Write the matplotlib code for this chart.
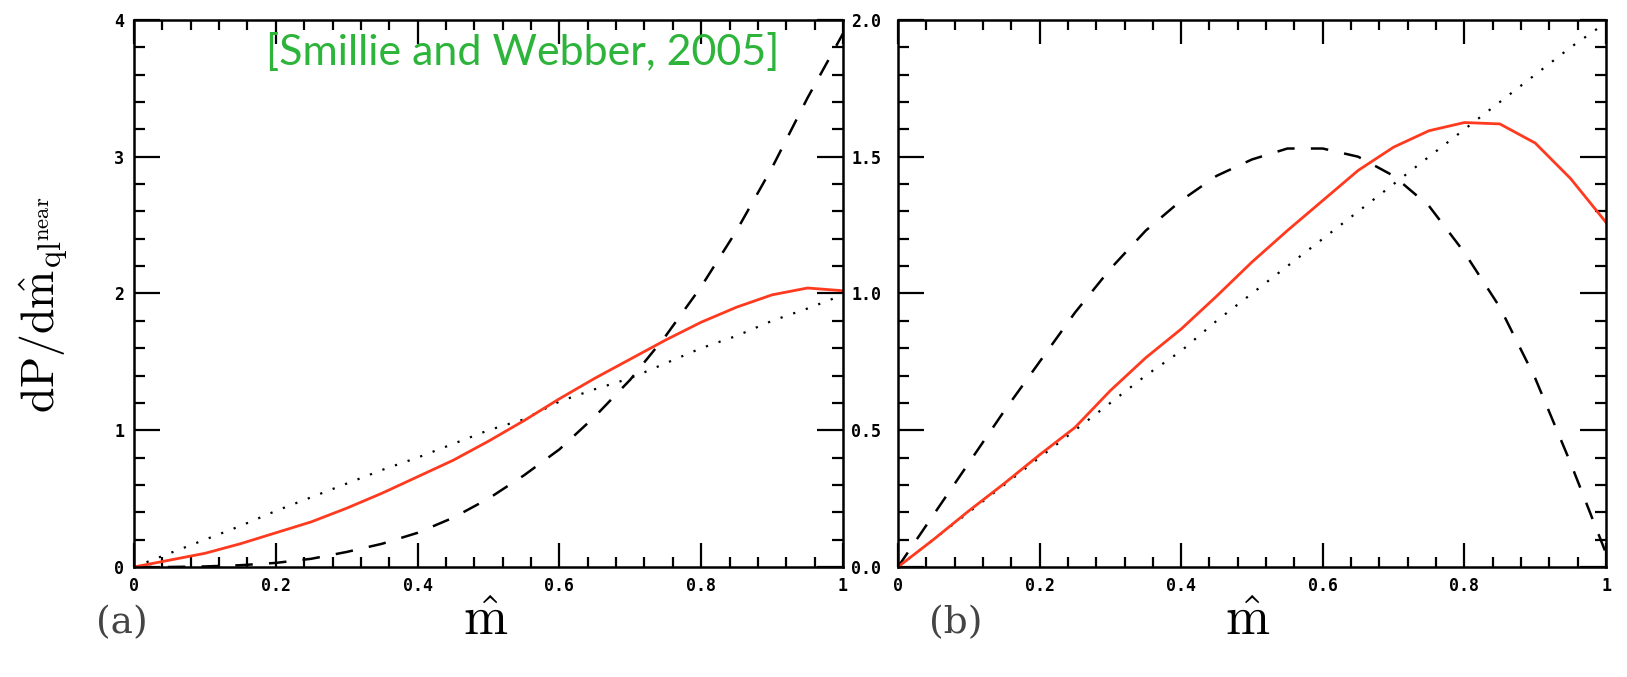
import matplotlib
matplotlib.use('Agg')
import matplotlib.pyplot as plt
from matplotlib.ticker import MultipleLocator, FixedLocator, FixedFormatter

plt.rcParams['mathtext.fontset'] = 'cm'

m_hat = [0.0, 0.05, 0.1, 0.15, 0.2, 0.25, 0.3, 0.35, 0.4, 0.45, 0.5,
         0.55, 0.6, 0.65, 0.7, 0.75, 0.8, 0.85, 0.9, 0.95, 1.0]

# panel (a)
a_red = [0.0, 0.05, 0.10, 0.17, 0.25, 0.33, 0.43, 0.54, 0.66, 0.78, 0.92,
         1.07, 1.23, 1.38, 1.52, 1.66, 1.79, 1.90, 1.99, 2.04, 2.02]
a_dot = [0.0, 0.10, 0.20, 0.30, 0.41, 0.51, 0.61, 0.71, 0.80, 0.90, 1.00,
         1.08, 1.21, 1.30, 1.38, 1.49, 1.60, 1.69, 1.80, 1.89, 1.99]
a_dash = [0.0, 0.0, 0.004, 0.013, 0.03, 0.06, 0.11, 0.17, 0.25, 0.36, 0.50,
          0.67, 0.86, 1.10, 1.37, 1.69, 2.05, 2.46, 2.92, 3.43, 3.90]

# panel (b)
b_red = [0.0, 0.10, 0.205, 0.305, 0.41, 0.51, 0.645, 0.765, 0.87, 0.99, 1.115,
         1.23, 1.34, 1.45, 1.535, 1.595, 1.625, 1.62, 1.55, 1.42, 1.26]
b_dot = [0.0, 0.10, 0.20, 0.30, 0.40, 0.50, 0.60, 0.70, 0.79, 0.90, 1.00,
         1.10, 1.20, 1.30, 1.40, 1.50, 1.60, 1.70, 1.80, 1.90, 1.99]
b_dash = [0.0, 0.19, 0.38, 0.57, 0.75, 0.93, 1.09, 1.23, 1.34, 1.43, 1.49,
          1.53, 1.53, 1.50, 1.43, 1.32, 1.15, 0.95, 0.69, 0.38, 0.05]

x_ticks = [0, 0.2, 0.4, 0.6, 0.8, 1.0]
x_labels = ['0', '0.2', '0.4', '0.6', '0.8', '1']
a_yticks = [0, 1, 2, 3, 4]
a_ylabels = ['0', '1', '2', '3', '4']
b_yticks = [0, 0.5, 1.0, 1.5, 2.0]
b_ylabels = ['0.0', '0.5', '1.0', '1.5', '2.0']

red = '#ff3a1f'
tick_font = dict(family='DejaVu Sans Mono', weight='bold', size=12)

fig = plt.figure(figsize=(16.27, 6.77), dpi=100)
ax_a = fig.add_axes([0.0824, 0.1625, 0.4357, 0.808])
ax_b = fig.add_axes([0.5519, 0.1625, 0.4352, 0.808])


def style(ax, yticks, ylabels, ymax, yminor, ypad):
    ax.set_xlim(0, 1)
    ax.set_ylim(0, ymax)
    ax.xaxis.set_major_locator(FixedLocator(x_ticks))
    ax.xaxis.set_major_formatter(FixedFormatter(x_labels))
    ax.xaxis.set_minor_locator(MultipleLocator(0.04))
    ax.yaxis.set_major_locator(FixedLocator(yticks))
    ax.yaxis.set_major_formatter(FixedFormatter(ylabels))
    ax.yaxis.set_minor_locator(MultipleLocator(yminor))
    ax.tick_params(which='both', direction='in', top=True, right=True,
                   width=1.6, color='black')
    ax.tick_params(axis='x', which='major', length=17, pad=7)
    ax.tick_params(axis='x', which='minor', length=7.5)
    ax.tick_params(axis='y', which='major', length=19, pad=ypad)
    ax.tick_params(axis='y', which='minor', length=8)
    for lab in ax.get_xticklabels() + ax.get_yticklabels():
        lab.set_fontproperties(tick_font)
    for sp in ax.spines.values():
        sp.set_linewidth(1.8)


def curves(ax, red_y, dot_y, dash_y):
    ax.plot(m_hat, dot_y, color='black', lw=1.6, dashes=(1.0, 5.0),
            dash_capstyle='butt')
    ax.plot(m_hat, dash_y, color='black', lw=1.8, dashes=(7.0, 6.5))
    ax.plot(m_hat, red_y, color=red, lw=2.0)


curves(ax_a, a_red, a_dot, a_dash)
curves(ax_b, b_red, b_dot, b_dash)
style(ax_a, a_yticks, a_ylabels, 4, 0.2, 7)
style(ax_b, b_yticks, b_ylabels, 2, 0.1, 12)

ax_a.set_ylabel(r'$\mathrm{dP/d}\hat{\mathrm{m}}_{\mathrm{q}\mathrm{l}^{\mathrm{near}}}$',
                fontsize=33)
ax_a.yaxis.set_label_coords(-0.09, 0.48)
for cx in [486, 1248]:
    fig.text(cx / 1627, 1 - 620 / 677, r'$\hat{\mathrm{m}}$', fontsize=38,
             ha='center', va='center')
fig.text(122 / 1627, 1 - 623 / 677, '(a)', fontsize=27, family='DejaVu Serif',
         ha='center', va='center', color='#444444')
fig.text(956 / 1627, 1 - 623 / 677, '(b)', fontsize=27, family='DejaVu Serif',
         ha='center', va='center', color='#444444')

ax_a.text(0.548, 0.94, '[Smillie and Webber, 2005]', transform=ax_a.transAxes,
          fontsize=31, family='Lato', color='#2db43a', ha='center', va='center')

fig.savefig('out.png', dpi=100)
